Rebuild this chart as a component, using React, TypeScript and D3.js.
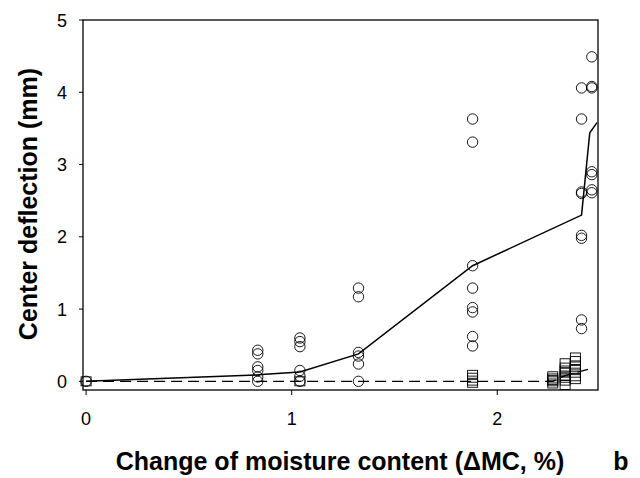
import * as d3 from "d3";

// observed deflection (circles) and predicted/other set (squares)
const circleX = [
  0,
  0.835, 0.835, 0.835, 0.835, 0.835, 0.835,
  1.04, 1.04, 1.04, 1.04, 1.04, 1.04,
  1.325, 1.325, 1.325, 1.325, 1.325, 1.325,
  1.88, 1.88, 1.88, 1.88, 1.88, 1.88, 1.88, 1.88,
  2.41, 2.41, 2.41, 2.41, 2.41, 2.41, 2.41, 2.41,
  2.46, 2.46, 2.46, 2.46, 2.46, 2.46, 2.46,
];
const circleY = [
  0,
  0.43, 0.38, 0.2, 0.15, 0.06, 0,
  0.6, 0.55, 0.48, 0.15, 0.07, 0,
  1.29, 1.17, 0.4, 0.35, 0.24, 0,
  3.63, 3.31, 1.6, 1.29, 1.02, 0.96, 0.62, 0.49,
  4.06, 3.63, 2.62, 2.6, 2.02, 1.98, 0.85, 0.73,
  4.49, 4.08, 4.06, 2.9, 2.86, 2.65, 2.61,
];
const squareX = [
  0,
  1.04,
  1.88, 1.88, 1.88, 1.88,
  2.27, 2.27, 2.27, 2.27, 2.27,
  2.33, 2.33, 2.33, 2.33, 2.33, 2.33, 2.33, 2.33,
  2.38, 2.38, 2.38, 2.38, 2.38, 2.38, 2.38,
];
const squareY = [
  0,
  0,
  0.09, 0.05, 0.01, -0.02,
  0.07, 0.04, 0.02, 0, -0.03,
  0.25, 0.19, 0.15, 0.12, 0.08, 0.05, 0.01, -0.05,
  0.33, 0.28, 0.22, 0.17, 0.12, 0.07, 0.03,
];
const solidX = [0, 0.835, 1.04, 1.325, 1.88, 2.41, 2.45, 2.485];
const solidY = [0, 0.09, 0.13, 0.38, 1.6, 2.3, 3.44, 3.58];
const dashX = [0, 0.835, 1.04, 1.325, 1.88, 2.27, 2.33, 2.38, 2.46];
const dashY = [0, 0, 0, 0, 0, 0, 0.08, 0.12, 0.18];
const xTicks = [0, 1, 2];
const yTicks = [0, 1, 2, 3, 4, 5];

export default function App() {
  const x = d3.scaleLinear().domain([-0.015, 2.49]).range([83, 598]);
  const y = d3.scaleLinear().domain([-0.12, 5]).range([390, 20]);
  const line = d3
    .line<[number, number]>()
    .x((d) => x(d[0]))
    .y((d) => y(d[1]));
  const solid = solidX.map((v, i) => [v, solidY[i]] as [number, number]);
  const dashed = dashX.map((v, i) => [v, dashY[i]] as [number, number]);
  const font = "'Liberation Sans', Arial, sans-serif";

  return (
    <svg
      width={640}
      height={478}
      style={{ position: "absolute", left: 0, top: 0, background: "#fff" }}
      fontFamily={font}
    >
      <rect x={0} y={0} width={640} height={478} fill="#fff" />
      <rect
        x={x.range()[0]}
        y={y.range()[1]}
        width={x.range()[1] - x.range()[0]}
        height={y.range()[0] - y.range()[1]}
        fill="none"
        stroke="#000"
        strokeWidth={1.3}
      />
      {yTicks.map((t) => (
        <g key={"y" + t}>
          <line x1={79} x2={83} y1={y(t)} y2={y(t)} stroke="#000" strokeWidth={1} />
          <text x={67} y={y(t) + 6.5} fontSize={18} textAnchor="end">
            {t}
          </text>
        </g>
      ))}
      {xTicks.map((t) => (
        <g key={"x" + t}>
          <line x1={x(t)} x2={x(t)} y1={390} y2={395} stroke="#000" strokeWidth={1} />
          <text x={x(t)} y={425} fontSize={18} textAnchor="middle">
            {t}
          </text>
        </g>
      ))}
      <path d={line(dashed) || ""} fill="none" stroke="#000" strokeWidth={1.3} strokeDasharray="11,6" />
      <path d={line(solid) || ""} fill="none" stroke="#000" strokeWidth={1.5} />
      {circleX.map((v, i) => (
        <circle
          key={"c" + i}
          cx={x(v)}
          cy={y(circleY[i])}
          r={5.2}
          fill="none"
          stroke="#000"
          strokeWidth={0.9}
        />
      ))}
      {squareX.map((v, i) => (
        <rect
          key={"s" + i}
          x={x(v) - 5}
          y={y(squareY[i]) - 4.5}
          width={10}
          height={9}
          fill="none"
          stroke="#000"
          strokeWidth={0.9}
        />
      ))}
      <text
        transform="translate(37,204) rotate(-90)"
        textAnchor="middle"
        fontSize={25}
        fontWeight="bold"
      >
        Center deflection (mm)
      </text>
      <text x={340} y={470} textAnchor="middle" fontSize={25} fontWeight="bold">
        Change of moisture content (ΔMC, %)
      </text>
      <text x={621} y={470} textAnchor="middle" fontSize={25} fontWeight="bold">
        b
      </text>
    </svg>
  );
}
